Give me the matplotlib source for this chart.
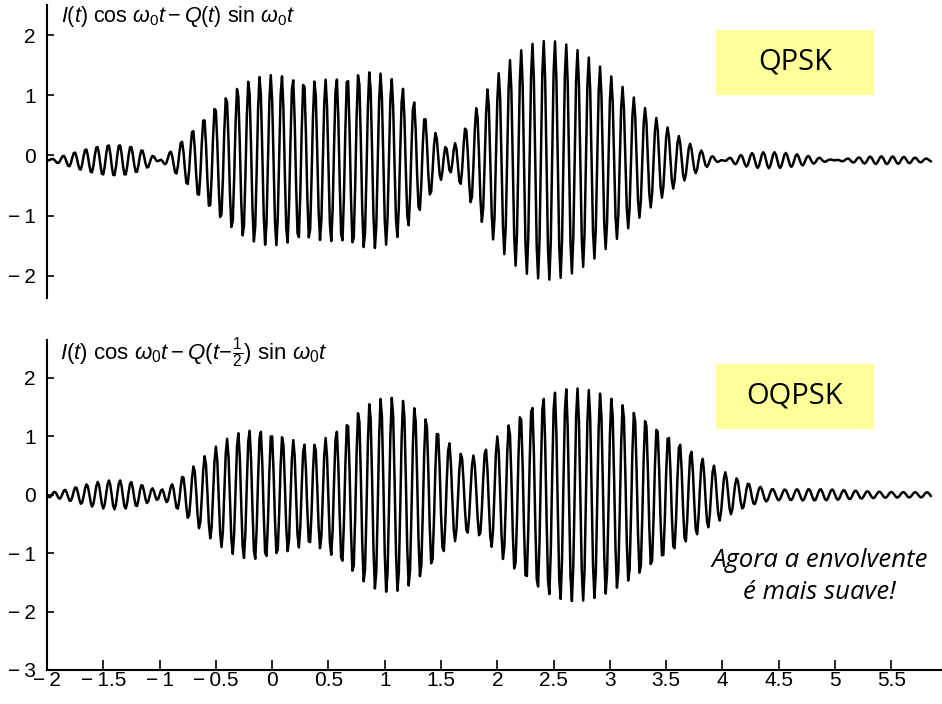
import numpy as np
import matplotlib.pyplot as plt
from matplotlib.patches import Rectangle

# symbols (one per unit of time)
sym_t = [0, 1, 2, 3]
I_sym = [1, -1, 1, 1]
Q_sym = [1, 1, -1, -1]
f0 = 10            # carrier cycles per symbol
rolloff = 0.35     # raised-cosine pulse
oq_delay = 0.5     # OQPSK offset of Q
qpsk_base = -0.08  # trace sits a bit low in the top panel
step = 1 / 80      # fairly coarse sampling, gives the angular look of the print

xticks = [-2, -1.5, -1, -0.5, 0, 0.5, 1, 1.5, 2, 2.5, 3, 3.5, 4, 4.5, 5, 5.5]
yticks_top = [-2, -1, 0, 1, 2]
yticks_bot = [-3, -2, -1, 0, 1, 2]

plt.rcParams['font.family'] = ['Liberation Sans', 'DejaVu Sans']
plt.rcParams['mathtext.fontset'] = 'custom'
plt.rcParams['mathtext.rm'] = 'Liberation Sans'
plt.rcParams['mathtext.it'] = 'Liberation Sans:italic'


def lab(v):
    s = ('%g' % abs(v))
    return '\u2212\u2009' + s if v < 0 else s


def pulse(t, b):
    t = np.asarray(t, dtype=float)
    den = 1 - (2 * b * t) ** 2
    out = np.sinc(t) * np.cos(np.pi * b * t) / np.where(np.abs(den) < 1e-8, 1, den)
    lim = np.pi / 4 * np.sinc(1 / (2 * b))
    return np.where(np.abs(den) < 1e-8, lim, out)


def baseband(t, syms, shift=0.0):
    return sum(s * pulse(t - k - shift, rolloff) for k, s in zip(sym_t, syms))


t = np.arange(-2, 5.86, step)
w0 = 2 * np.pi * f0
qpsk = baseband(t, I_sym) * np.cos(w0 * t) - baseband(t, Q_sym) * np.sin(w0 * t) + qpsk_base
oqpsk = baseband(t, I_sym) * np.cos(w0 * t) - baseband(t, Q_sym, oq_delay) * np.sin(w0 * t)

fig = plt.figure(figsize=(9.42, 7.04), dpi=100)
ax1 = fig.add_axes([0.0499, 0.5767, 0.9501, 0.4162])
ax2 = fig.add_axes([0.0499, 0.0483, 0.9501, 0.4687])

ax1.plot(t, qpsk, 'k-', lw=1.8)
ax2.plot(t, oqpsk, 'k-', lw=1.8)

for ax in (ax1, ax2):
    ax.set_xlim(-2, 5.95)
    ax.spines['top'].set_visible(False)
    ax.spines['right'].set_visible(False)
    ax.spines['left'].set_linewidth(1.5)
    ax.spines['bottom'].set_linewidth(1.5)
    ax.tick_params(axis='y', direction='in', length=5, width=1.2, labelsize=15, pad=8)
    ax.tick_params(axis='x', direction='in', length=7.5, width=1.2, labelsize=15, pad=1)

ax1.set_ylim(-2.37, 2.5)
ax1.set_yticks(yticks_top)
ax1.set_yticklabels([lab(v) for v in yticks_top])
ax1.spines['bottom'].set_visible(False)
ax1.set_xticks([])

ax2.set_ylim(-3, 2.65)
ax2.set_yticks(yticks_bot)
ax2.set_yticklabels([lab(v) for v in yticks_bot])
ax2.set_xticks(xticks)
ax2.set_xticklabels([lab(v) for v in xticks])

ax1.text(0.016, 0.962, r'$I(t)\ \mathrm{cos}\ \omega_0t - Q(t)\ \mathrm{sin}\ \omega_0t$',
         transform=ax1.transAxes, fontsize=15.5, va='center', ha='left')
ax2.text(0.014, 0.963, r'$I(t)\ \mathrm{cos}\ \omega_0t - Q(t\!-\!\frac{1}{2})\ \mathrm{sin}\ \omega_0t$',
         transform=ax2.transAxes, fontsize=16, va='center', ha='left')

# yellow labels
for y0, name in [(0.865, 'QPSK'), (0.3906, 'OQPSK')]:
    fig.patches.append(Rectangle((0.760, y0), 0.1677, 0.093, transform=fig.transFigure,
                                 facecolor='#ffff99', edgecolor='none'))
    fig.text(0.760 + 0.1677 / 2, y0 + 0.093 / 2, name, fontsize=21, family='Open Sans',
             ha='center', va='center')

fig.text(0.870, 0.2045, 'Agora a envolvente', fontsize=18.5, family='Open Sans',
         style='italic', ha='center', va='center')
fig.text(0.870, 0.158, 'é mais suave!', fontsize=18.5, family='Open Sans',
         style='italic', ha='center', va='center')

fig.savefig('out.png', dpi=100)
